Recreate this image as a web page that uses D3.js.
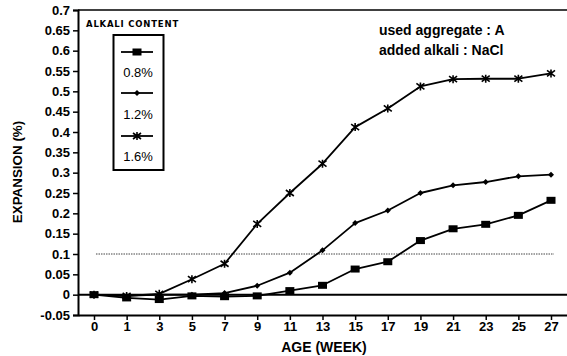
<!DOCTYPE html>
<html><head><meta charset="utf-8">
<script src="https://cdn.jsdelivr.net/npm/d3@7/dist/d3.min.js"></script>
<style>
body{margin:0;background:#fff;}
svg{display:block;font-family:"Liberation Sans",Arial,sans-serif;}
</style></head>
<body><svg id="c" width="567" height="356"></svg>
<script>
const weeks = [0,1,3,5,7,9,11,13,15,17,19,21,23,25,27];
const s08 = [0,-0.008,-0.012,-0.003,-0.005,-0.003,0.01,0.023,0.063,0.081,0.133,0.162,0.173,0.195,0.232];
const s12 = [0,-0.003,0,0,0.004,0.022,0.054,0.109,0.176,0.207,0.25,0.269,0.277,0.291,0.295];
const s16 = [0,-0.003,0.002,0.038,0.076,0.174,0.25,0.322,0.412,0.458,0.512,0.53,0.531,0.531,0.544];
const yTicks = [0.7,0.65,0.6,0.55,0.5,0.45,0.4,0.35,0.3,0.25,0.2,0.15,0.1,0.05,0,-0.05];
const seriesNames = ["0.8%","1.2%","1.6%"];
const threshold = 0.1;

const svg = d3.select("#c");
const L=78, R=567, T=10, B=315;
const x = d3.scalePoint().domain(weeks).range([L,R]).padding(0.49);
const y = d3.scaleLinear().domain([-0.05,0.7]).range([B,T]);

// top frame line
svg.append("line").attr("x1",L).attr("x2",R).attr("y1",T).attr("y2",T)
  .attr("stroke","#000").attr("stroke-width",1.5);

// y axis
const ya = svg.append("g").attr("transform",`translate(${L},0)`)
  .call(d3.axisLeft(y).tickValues(yTicks).tickSize(5).tickPadding(3).tickFormat(d=>String(+d.toFixed(2))));
ya.select(".domain").attr("stroke-width",2);
ya.selectAll(".tick line").attr("stroke-width",1.5);
ya.selectAll("text").attr("font-size",13).attr("font-weight","bold").attr("fill","#000");

// x axis
const xa = svg.append("g").attr("transform",`translate(0,${B})`)
  .call(d3.axisBottom(x).tickSize(5).tickPadding(2).tickSizeOuter(0));
xa.select(".domain").attr("stroke-width",2);
xa.selectAll(".tick line").attr("stroke-width",1.5);
xa.selectAll("text").attr("font-size",13).attr("font-weight","bold").attr("fill","#000");

// zero line
svg.append("line").attr("x1",L).attr("x2",R).attr("y1",y(0)).attr("y2",y(0))
  .attr("stroke","#000").attr("stroke-width",2);
// threshold dotted
svg.append("line").attr("x1",x(weeks[0])+2).attr("x2",x(weeks[weeks.length-1])+3)
  .attr("y1",y(threshold)).attr("y2",y(threshold))
  .attr("stroke","#444").attr("stroke-width",1).attr("stroke-dasharray","1.5,1");

// axis titles
svg.append("text").attr("x",324).attr("y",352).attr("text-anchor","middle")
  .attr("font-size",14).attr("font-weight","bold").text("AGE (WEEK)");
svg.append("text").attr("transform","translate(22,172) rotate(-90)").attr("text-anchor","middle")
  .attr("font-size",13.4).attr("font-weight","bold").text("EXPANSION (%)");

// markers
function marker(g,type,cx,cy){
  if(type===0){
    g.append("rect").attr("x",cx-4.5).attr("y",cy-3.5).attr("width",9).attr("height",7).attr("fill","#000");
  } else if(type===1){
    g.append("path").attr("d",`M${cx-3},${cy}L${cx},${cy-3}L${cx+3},${cy}L${cx},${cy+3}Z`).attr("fill","#000");
  } else {
    g.append("path").attr("d",`M${cx-4},${cy-3}L${cx+4},${cy+3}M${cx-4},${cy+3}L${cx+4},${cy-3}M${cx},${cy-4}L${cx},${cy+4}`)
      .attr("stroke","#000").attr("stroke-width",1.6);
  }
}
const line = d3.line().x(d=>x(d[0])).y(d=>y(d[1]));
[s08,s12,s16].forEach((s,i)=>{
  const pts = weeks.map((w,j)=>[w,s[j]]);
  svg.append("path").datum(pts).attr("d",line).attr("fill","none")
    .attr("stroke","#000").attr("stroke-width",1.8).attr("stroke-linejoin","round");
  const g = svg.append("g");
  pts.forEach(p=>marker(g,i,x(p[0]),y(p[1])));
});

// legend
svg.append("text").attr("x",86).attr("y",27).attr("font-size",8.5).attr("font-weight","bold")
  .attr("letter-spacing",0.8)
  .attr("font-family","'DejaVu Sans',sans-serif").text("ALKALI CONTENT");
svg.append("rect").attr("x",113.5).attr("y",35).attr("width",50).attr("height",135)
  .attr("fill","none").attr("stroke","#000").attr("stroke-width",2);
const lg = svg.append("g");
const lineYs=[52,93,136], labYs=[77,119,161];
seriesNames.forEach((n,i)=>{
  lg.append("line").attr("x1",121).attr("x2",153).attr("y1",lineYs[i]).attr("y2",lineYs[i])
    .attr("stroke","#000").attr("stroke-width",1.8);
  marker(lg,i,137,lineYs[i]);
  lg.append("text").attr("x",138).attr("y",labYs[i]).attr("text-anchor","middle")
    .attr("font-size",13).text(n);
});

// annotation
svg.append("text").attr("x",379).attr("y",35).attr("font-size",14).attr("font-weight","bold").text("used aggregate : A");
svg.append("text").attr("x",379).attr("y",55).attr("font-size",14).attr("font-weight","bold").text("added alkali : NaCl");
</script></body></html>
